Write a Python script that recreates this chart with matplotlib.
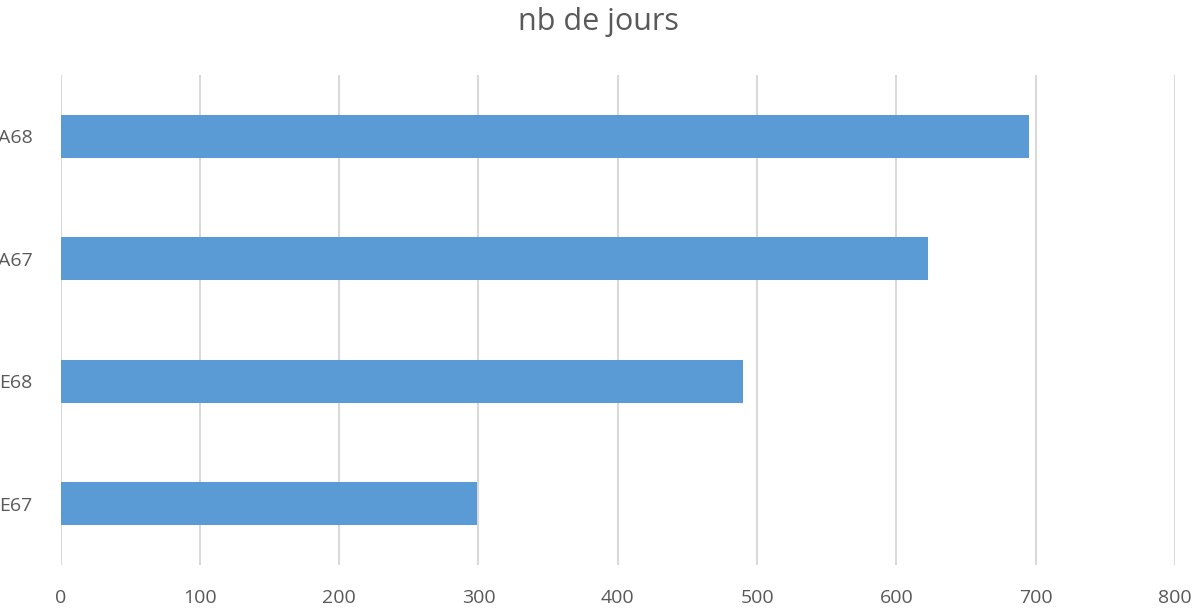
import matplotlib.pyplot as plt

categories = ['E67', 'E68', 'A67', 'A68']
values = [299, 490, 623, 695]
xticks = [0, 100, 200, 300, 400, 500, 600, 700, 800]

plt.rcParams['font.family'] = ['Open Sans', 'DejaVu Sans']
TXT = '#595959'

fig = plt.figure(figsize=(11.97, 6.09), dpi=100)
ax = fig.add_axes([60.5 / 1197, 1 - 565 / 609, (1175 - 60.5) / 1197, 490 / 609])

ax.barh(range(len(categories)), values, height=0.35, color='#5B9BD5', zorder=3)
ax.set_xlim(0, 800)
ax.set_ylim(-0.5, len(categories) - 0.5)
ax.set_xticks(xticks)
ax.set_yticks(range(len(categories)))
ax.set_yticklabels(categories)
ax.grid(axis='x', color='#D9D9D9', linewidth=1.5, zorder=0)
for s in ax.spines.values():
    s.set_visible(False)
ax.tick_params(axis='both', length=0, labelsize=14, colors=TXT)
ax.tick_params(axis='x', pad=17)
ax.tick_params(axis='y', pad=20)

fig.text(0.5, 1 - 22 / 609, 'nb de jours', ha='center', va='center', fontsize=22, color=TXT)

fig.savefig('out.png', dpi=100)
